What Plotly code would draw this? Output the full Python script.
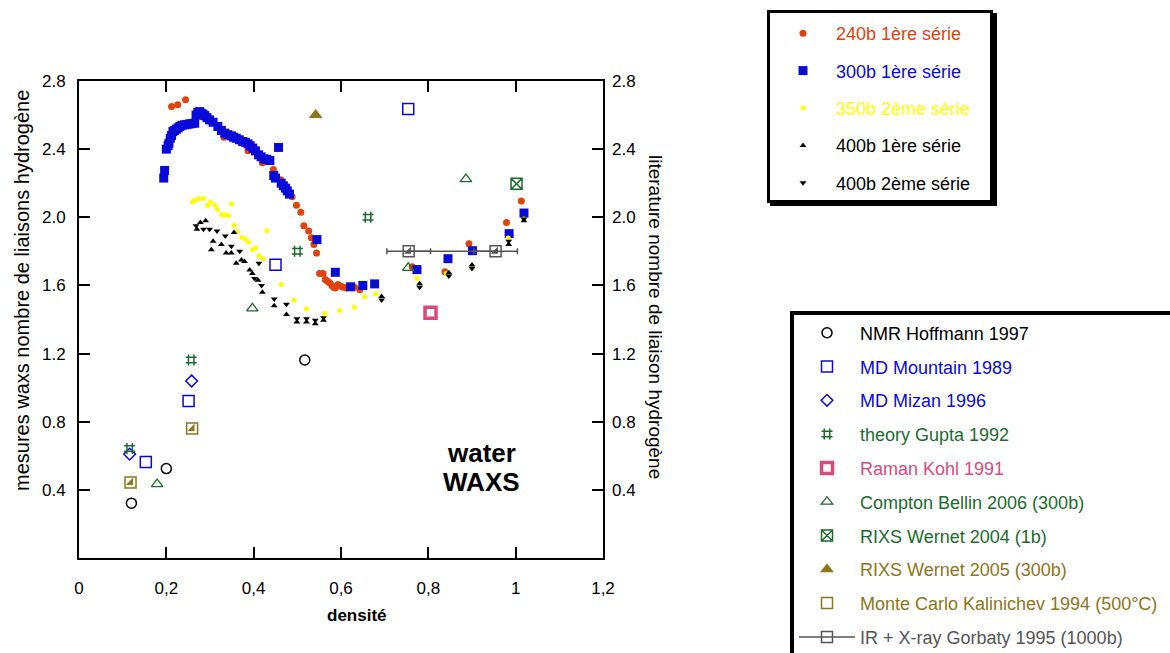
import plotly.graph_objects as go

# ---------------- data ----------------
x240 = [0.212, 0.226, 0.244, 0.275, 0.332, 0.387, 0.420, 0.445, 0.462, 0.488, 0.498, 0.508,
        0.515, 0.526, 0.532, 0.538, 0.544, 0.551, 0.559, 0.564, 0.569, 0.574, 0.579, 0.583,
        0.587, 0.593, 0.600, 0.605, 0.612, 0.616, 0.624, 0.631, 0.643, 0.763, 0.838, 0.893,
        0.979, 1.013]
y240 = [2.65, 2.66, 2.69, 2.59, 2.47, 2.39, 2.32, 2.28, 2.22, 2.12, 2.07, 2.03,
        1.95, 1.92, 1.88, 1.84, 1.79, 1.67, 1.67, 1.635, 1.625, 1.615, 1.60, 1.59,
        1.585, 1.605, 1.595, 1.59, 1.585, 1.59, 1.59, 1.59, 1.575, 1.71, 1.68, 1.845,
        1.97, 2.095]

x300 = [0.194, 0.196, 0.200, 0.204, 0.206, 0.209, 0.212, 0.215, 0.219, 0.223, 0.227, 0.231,
        0.236, 0.242, 0.247, 0.253, 0.258, 0.265, 0.268, 0.272, 0.276, 0.280, 0.284, 0.288,
        0.293, 0.299, 0.307, 0.318, 0.326, 0.334, 0.341, 0.349, 0.354, 0.360, 0.367, 0.375,
        0.381, 0.387, 0.392, 0.398, 0.404, 0.411, 0.417, 0.424, 0.430, 0.437, 0.457, 0.446,
        0.450, 0.463, 0.468, 0.473, 0.477, 0.482, 0.545, 0.587, 0.622, 0.650, 0.677, 0.774,
        0.845, 0.901, 0.985, 1.019]
y300 = [2.23, 2.275, 2.40, 2.42, 2.435, 2.464, 2.48, 2.503, 2.51, 2.517, 2.525, 2.533,
        2.54, 2.543, 2.545, 2.548, 2.55, 2.552, 2.60, 2.617, 2.62, 2.611, 2.605, 2.597,
        2.585, 2.572, 2.558, 2.533, 2.51, 2.494, 2.485, 2.478, 2.47, 2.464, 2.455, 2.445,
        2.44, 2.431, 2.42, 2.406, 2.39, 2.367, 2.355, 2.343, 2.34, 2.333, 2.41, 2.245,
        2.23, 2.20, 2.185, 2.171, 2.155, 2.136, 1.869, 1.677, 1.592, 1.60, 1.609, 1.693,
        1.757, 1.804, 1.904, 2.025]

x350 = [0.260, 0.265, 0.274, 0.285, 0.294, 0.301, 0.311, 0.317, 0.326, 0.334, 0.342, 0.349,
        0.355, 0.362, 0.373, 0.381, 0.388, 0.397, 0.404, 0.412, 0.421, 0.430, 0.463, 0.492,
        0.521, 0.563, 0.597, 0.630, 0.654, 0.679, 0.774, 0.841, 0.899, 0.983, 1.019]
y350 = [2.09, 2.10, 2.11, 2.11, 2.07, 2.09, 2.07, 2.045, 2.015, 2.015, 2.01, 2.08,
        1.953, 1.917, 1.882, 1.873, 1.853, 1.81, 1.82, 1.775, 1.757, 1.921, 1.605, 1.513,
        1.463, 1.435, 1.453, 1.472, 1.533, 1.551, 1.64, 1.67, 1.709, 1.879, 1.99]

x400a = [0.270, 0.278, 0.290, 0.303, 0.307, 0.326, 0.337, 0.349, 0.355, 0.360, 0.372, 0.379,
         0.391, 0.397, 0.410, 0.420, 0.447, 0.475, 0.499, 0.521, 0.541, 0.560, 0.693, 0.780,
         0.847, 0.900, 0.984, 1.019]
y400a = [1.93, 1.97, 1.98, 1.81, 1.86, 1.84, 1.79, 1.79, 1.91, 1.73, 1.75, 1.74,
         1.69, 1.67, 1.63, 1.56, 1.48, 1.43, 1.385, 1.385, 1.375, 1.395, 1.535, 1.61,
         1.675, 1.72, 1.84, 1.98]

x400b = [0.268, 0.285, 0.299, 0.316, 0.335, 0.349, 0.368, 0.402, 0.412, 0.418, 0.447, 0.475,
         0.499, 0.521, 0.541, 0.560, 0.693, 0.780, 0.847, 0.900, 0.984, 1.019]
y400b = [1.95, 1.93, 1.93, 1.92, 1.89, 1.83, 1.80, 1.64, 1.73, 1.60, 1.52, 1.49,
         1.405, 1.405, 1.395, 1.41, 1.515, 1.59, 1.655, 1.70, 1.86, 1.99]

x_nmr = [0.120, 0.200, 0.517]
y_nmr = [0.322, 0.525, 1.162]
x_mountain = [0.153, 0.251, 0.450, 0.754]
y_mountain = [0.564, 0.921, 1.722, 2.636]
x_mizan = [0.116, 0.258]
y_mizan = [0.61, 1.039]
x_gupta = [0.116, 0.257, 0.500, 0.662]
y_gupta = [0.643, 1.162, 1.800, 2.000]
x_kohl = [0.805]
y_kohl = [1.439]
x_bellin = [0.179, 0.397, 0.754, 0.886]
y_bellin = [0.434, 1.465, 1.703, 2.224]
x_wernet04 = [1.002]
y_wernet04 = [2.197]
x_wernet05 = [0.542]
y_wernet05 = [2.601]
x_kalin = [0.118, 0.259]
y_kalin = [0.443, 0.760]
x_gorbaty = [0.755, 0.954]
y_gorbaty = [1.800, 1.800]
err_gorbaty = [0.05, 0.05]

x_ticks = [0, 0.2, 0.4, 0.6, 0.8, 1.0, 1.2]
x_ticktext = ["0", "0,2", "0,4", "0,6", "0,8", "1", "1,2"]
y_ticks = [0.4, 0.8, 1.2, 1.6, 2.0, 2.4, 2.8]
y_ticktext = ["0.4", "0.8", "1.2", "1.6", "2.0", "2.4", "2.8"]

# ---------------- layout helpers ----------------
W, H = 1170, 653
L, R, T, B = 79, 567, 81, 95
PW, PH = W - L - R, H - T - B


def px(x):
    return (x - L) / PW


def py(y):
    return (H - B - y) / PH


FONT = "Liberation Sans, Arial, sans-serif"
RED = "#e0420e"
BLUE = "#0a0ad8"
YEL = "#ffff00"
GREEN = "#1b6b2f"
PINK = "#dc4a7c"
OLIVE = "#8c7620"
GREY = "#555555"


def nm(text, color):
    return "<span style='color:%s'>%s</span>" % (color, text)


fig = go.Figure()


def add(x, y, name, legend, symbol, size, color, lw=0, group=None, mode="markers",
        showlegend=True, **kw):
    fig.add_trace(go.Scatter(
        x=x, y=y, mode=mode, name=name, legend=legend,
        legendgroup=group or name, showlegend=showlegend,
        marker=dict(symbol=symbol, size=size, color=color,
                    line=dict(width=lw, color=color)),
        hoverinfo="skip", **kw))


# main series
add(x240, y240, nm("240b 1ère série", RED), "legend", "circle", 7, RED, group="a")
add(x300, y300, nm("300b 1ère série", BLUE), "legend", "square", 9, BLUE, group="b")
add(x350, y350, nm("350b 2ème série", YEL), "legend", "circle", 5, YEL, group="c")
add(x400a, y400a, nm("400b 1ère série", "black"), "legend", "triangle-up", 6, "black", group="d")
add(x400b, y400b, nm("400b 2ème série", "black"), "legend", "triangle-down", 6, "black", group="e")

# literature
add(x_nmr, y_nmr, nm("NMR Hoffmann 1997", "black"), "legend2", "circle-open", 10, "black", 1.5, group="f")
add(x_mountain, y_mountain, nm("MD Mountain 1989", BLUE), "legend2", "square-open", 11, BLUE, 1.5, group="g")
add(x_mizan, y_mizan, nm("MD Mizan 1996", BLUE), "legend2", "diamond-open", 9, BLUE, 1.5, group="h")
add(x_gupta, y_gupta, nm("theory Gupta 1992", GREEN), "legend2", "hash-open", 11, GREEN, 1.5, group="i")
add(x_kohl, y_kohl, nm("Raman Kohl 1991", PINK), "legend2", "square-open", 11, PINK, 3.5, group="j")
add(x_bellin, y_bellin, nm("Compton Bellin 2006 (300b)", GREEN), "legend2", "triangle-up-open", 10, GREEN, 1.3, group="k")
add(x_wernet04, y_wernet04, nm("RIXS Wernet 2004 (1b)", GREEN), "legend2", "square-x-open", 11, GREEN, 1.5, group="l")
add(x_wernet05, y_wernet05, nm("RIXS Wernet 2005 (300b)", OLIVE), "legend2", "triangle-up", 12, OLIVE, group="m")
add(x_kalin, y_kalin, nm("Monte Carlo Kalinichev 1994 (500°C)", OLIVE), "legend2", "square-open", 11, OLIVE, 1.5, group="n")
add(x_kalin, y_kalin, "kalin_fill", "legend2", "triangle-se", 8, OLIVE, group="n", showlegend=False)
fig.add_trace(go.Scatter(
    x=x_gorbaty, y=y_gorbaty, mode="lines+markers", legend="legend2", legendgroup="o",
    name=nm("IR + X-ray Gorbaty 1995 (1000b)", GREY),
    line=dict(color=GREY, width=1.5),
    marker=dict(symbol="square-open", size=11, color=GREY, line=dict(width=1.5, color=GREY)),
    error_x=dict(type="data", array=err_gorbaty, visible=True, color=GREY, thickness=1.5, width=3),
    hoverinfo="skip"))
add(x_gorbaty, y_gorbaty, "gorb_fill", "legend2", "triangle-se", 8, GREY, group="o", showlegend=False)

# ---------------- axes ----------------
axis_common = dict(showgrid=False, zeroline=False, ticks="inside", ticklen=11,
                   tickwidth=1.5, tickcolor="black", automargin=False,
                   tickfont=dict(family=FONT, size=17, color="black"))
fig.update_xaxes(range=[0, 1.2], tickvals=x_ticks, ticktext=x_ticktext,
                 showline=True, linecolor="black", linewidth=2, mirror="ticks",
                 ticklabelstandoff=14, **axis_common)
fig.update_yaxes(range=[0, 2.8], tickvals=y_ticks, ticktext=y_ticktext,
                 showline=True, linecolor="black", linewidth=2, mirror=True,
                 ticklabelstandoff=8, **axis_common)
fig.update_layout(yaxis2=dict(overlaying="y", side="right", range=[0, 2.8],
                              tickvals=y_ticks, ticktext=y_ticktext, showline=False,
                              ticklabelstandoff=8, **axis_common))
# dummy invisible trace to activate yaxis2
fig.add_trace(go.Scatter(x=[None], y=[None], yaxis="y2", showlegend=False, hoverinfo="skip"))

# ---------------- shapes (legend frames) ----------------
shapes = [
    dict(type="rect", xref="paper", yref="paper", layer="above",
         x0=px(770), x1=px(997), y0=py(13), y1=py(206),
         fillcolor="black", line=dict(width=0)),
    dict(type="rect", xref="paper", yref="paper", layer="above",
         x0=px(768.5), x1=px(991.5), y0=py(11.5), y1=py(201.5),
         fillcolor="white", line=dict(width=3, color="black")),
    dict(type="rect", xref="paper", yref="paper", layer="above",
         x0=px(792), x1=px(1220), y0=py(313), y1=py(720),
         fillcolor="white", line=dict(width=4, color="black")),
]


def ann(text, x, y, size, angle=0):
    return dict(text=text, x=px(x), y=py(y), xref="paper", yref="paper",
                xanchor="center", yanchor="middle", showarrow=False,
                textangle=angle, font=dict(family=FONT, size=size, color="black"))


annotations = [
    ann("<b>water</b>", 481, 453, 26),
    ann("<b>WAXS</b>", 481, 482, 26),
    ann("<b>densité</b>", 357, 615, 17),
    ann("mesures waxs nombre de liaisons hydrogène", 22, 291, 20, -90),
    ann("literature nombre de liaison hydrogène", 656, 317, 19, 90),
]

fig.update_layout(
    width=W, height=H,
    margin=dict(l=L, r=R, t=T, b=B, pad=0, autoexpand=False),
    paper_bgcolor="white", plot_bgcolor="white",
    font=dict(family=FONT, color="black"),
    shapes=shapes, annotations=annotations,
    legend=dict(x=px(770), y=py(15), xanchor="left", yanchor="top",
                bgcolor="rgba(0,0,0,0)", borderwidth=0, itemwidth=56,
                font=dict(family=FONT, size=18), traceorder="grouped",
                tracegroupgap=11, itemclick=False),
    legend2=dict(x=px(794), y=py(314.5), xanchor="left", yanchor="top",
                 bgcolor="rgba(0,0,0,0)", borderwidth=0, itemwidth=56,
                 font=dict(family=FONT, size=18), traceorder="grouped",
                 tracegroupgap=7.4, itemclick=False),
    showlegend=True,
)

fig.write_html("out.html", config={"displayModeBar": False},
               post_script="document.body.style.margin='0px';document.body.style.overflow='hidden';")
